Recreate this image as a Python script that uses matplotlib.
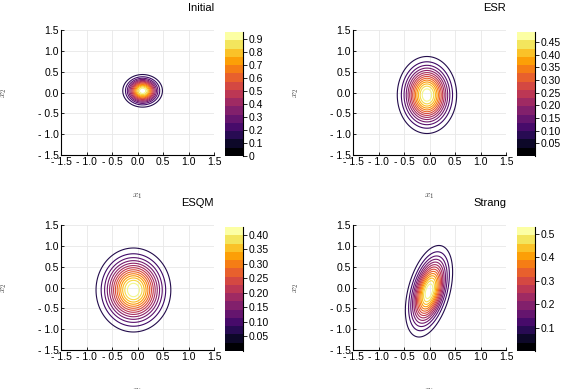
import numpy as np
import matplotlib
matplotlib.use('Agg')
import matplotlib.pyplot as plt
from matplotlib.colors import ListedColormap, BoundaryNorm
from matplotlib.cm import ScalarMappable

plt.rcParams['font.family'] = ['Liberation Sans', 'DejaVu Sans']
plt.rcParams['mathtext.fontset'] = 'cm'

# Gaussian parameters
titles = ['Initial', 'ESR', 'ESQM', 'Strang']
peak = [0.956, 0.49, 0.427, 0.53]
mean_x1 = [0.10, -0.05, -0.08, -0.01]
mean_x2 = [0.04, -0.06, -0.06, -0.09]
sigma_x1 = [0.167, 0.25, 0.315, 0.199]
sigma_x2 = [0.168, 0.397, 0.433, 0.472]
rho = [0.0, 0.0, 0.0, 0.42]

cbar_ticks = [
    [0, 0.1, 0.2, 0.3, 0.4, 0.5, 0.6, 0.7, 0.8, 0.9],
    [0.05, 0.10, 0.15, 0.20, 0.25, 0.30, 0.35, 0.40, 0.45],
    [0.05, 0.10, 0.15, 0.20, 0.25, 0.30, 0.35, 0.40],
    [0.1, 0.2, 0.3, 0.4, 0.5],
]
cbar_labels = [
    ['0', '0.1', '0.2', '0.3', '0.4', '0.5', '0.6', '0.7', '0.8', '0.9'],
    ['0.05', '0.10', '0.15', '0.20', '0.25', '0.30', '0.35', '0.40', '0.45'],
    ['0.05', '0.10', '0.15', '0.20', '0.25', '0.30', '0.35', '0.40'],
    ['0.1', '0.2', '0.3', '0.4', '0.5'],
]
axis_ticks = [-1.5, -1.0, -0.5, 0.0, 0.5, 1.0, 1.5]
axis_labels = ['- 1.5', '- 1.0', '- 0.5', '0.0', '0.5', '1.0', '1.5']
n_levels = 15

g = np.linspace(-1.5, 1.5, 241)
X1, X2 = np.meshgrid(g, g)

fig = plt.figure(figsize=(5.84, 3.89), dpi=100)
W, H = 584, 389
ax_pos = [(61, 30), (353, 30), (61, 225), (353, 225)]
cb_pos = [(225, 32), (517, 32), (225, 227), (517, 227)]
inferno = plt.get_cmap('inferno')
bands = inferno(np.linspace(0, 1, n_levels))
line_colors = inferno(np.linspace(0.13, 0.97, n_levels - 1))
cmap = ListedColormap(bands)

for i in range(4):
    lx, ty = ax_pos[i]
    ax = fig.add_axes([lx / W, 1 - (ty + 125) / H, 153 / W, 125 / H])
    dx = (X1 - mean_x1[i]) / sigma_x1[i]
    dy = (X2 - mean_x2[i]) / sigma_x2[i]
    q = (dx**2 - 2 * rho[i] * dx * dy + dy**2) / (1 - rho[i]**2)
    Z = peak[i] * np.exp(-0.5 * q)
    zmin, zmax = Z.min(), Z.max()
    levels = np.linspace(zmin, zmax, n_levels + 1)
    ax.contour(X1, X2, Z, levels=levels[1:-1], colors=line_colors,
               linewidths=0.8)
    ax.set_xlim(-1.5, 1.5)
    ax.set_ylim(-1.5, 1.5)
    ax.set_xticks(axis_ticks)
    ax.set_xticklabels(axis_labels)
    ax.set_yticks(axis_ticks)
    ax.set_yticklabels(axis_labels)
    ax.tick_params(direction='in', length=2.5, width=0.6, labelsize=7.5, pad=1.5)
    ax.grid(True, color='#e8e8e8', linewidth=0.6)
    ax.set_axisbelow(True)
    for s in ['top', 'right']:
        ax.spines[s].set_visible(False)
    for s in ['left', 'bottom']:
        ax.spines[s].set_linewidth(0.8)
    ax.set_title(titles[i], loc='right', fontsize=8, pad=14)
    ax.set_xlabel('$x_1$', fontsize=7, color='#444444')
    ax.xaxis.set_label_coords(0.5, -0.29)
    ax.set_ylabel('$x_2$', fontsize=7, color='#444444')
    ax.yaxis.set_label_coords(-0.34, 0.5)

    cx, cy = cb_pos[i]
    cax = fig.add_axes([cx / W, 1 - (cy + 124) / H, 18 / W, 124 / H])
    sm = ScalarMappable(norm=BoundaryNorm(levels, n_levels), cmap=cmap)
    cb = fig.colorbar(sm, cax=cax)
    cb.outline.set_visible(False)
    cb.set_ticks(cbar_ticks[i])
    cb.set_ticklabels(cbar_labels[i])
    cax.tick_params(direction='out', length=3, width=0.6, labelsize=7.5, pad=1)
    cax.plot([1, 1], [0, 1], transform=cax.transAxes, color='black',
             lw=0.8, clip_on=False)
    cax.minorticks_off()

fig.savefig('out.png', dpi=100)
